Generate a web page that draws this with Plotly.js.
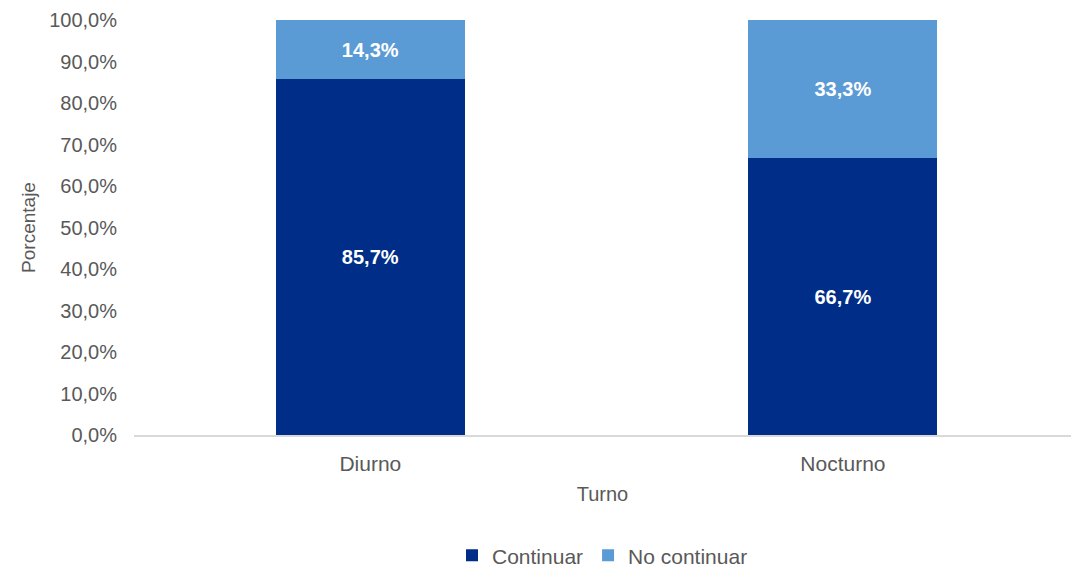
<!DOCTYPE html>
<html>
<head>
<meta charset="utf-8">
<script src="https://cdn.plot.ly/plotly-3.0.1.min.js"></script>
<style>html,body{margin:0;padding:0;background:#fff;}#chart{width:1071px;height:567px;}</style>
</head>
<body>
<div id="chart"></div>
<script>
const categories = ["Diurno", "Nocturno"];
const continuar = [85.7, 66.7];
const noContinuar = [14.3, 33.3];
const yTicks = [0, 10, 20, 30, 40, 50, 60, 70, 80, 90, 100];
const yTickText = yTicks.map(v => v.toFixed(1).replace(".", ",") + "%");

const font = "Liberation Sans, Arial, sans-serif";
const traces = [
  {
    type: "bar", name: "Continuar", x: categories, y: continuar,
    marker: {color: "#002D87"},
    texttemplate: "<b>%{y:.1f}%</b>", textposition: "inside", insidetextanchor: "middle",
    textfont: {color: "#ffffff", size: 20, family: font},
    hoverinfo: "skip"
  },
  {
    type: "bar", name: "No continuar", x: categories, y: noContinuar,
    marker: {color: "#5B9BD5"},
    texttemplate: "<b>%{y:.1f}%</b>", textposition: "inside", insidetextanchor: "middle",
    textfont: {color: "#ffffff", size: 20, family: font},
    hoverinfo: "skip"
  }
];
const layout = {
  width: 1071, height: 567,
  margin: {l: 134, r: 0, t: 20, b: 132},
  barmode: "stack", bargap: 0.6,
  separators: ",.",
  paper_bgcolor: "#ffffff", plot_bgcolor: "#ffffff",
  font: {family: font, color: "#595959", size: 20},
  showlegend: true,
  legend: {orientation: "h", x: 0.5, xanchor: "center", yref: "container", y: 0.02, yanchor: "middle",
           font: {size: 21, color: "#595959"}, itemwidth: 30, traceorder: "normal"},
  xaxis: {
    automargin: false,
    range: [-0.5, 1.4825],
    title: {text: "Turno", font: {size: 20, color: "#595959"}, standoff: 13},
    showline: true, linecolor: "#d9d9d9", linewidth: 2,
    ticks: "outside", ticklen: 9, tickcolor: "rgba(0,0,0,0)",
    tickfont: {size: 21, color: "#595959"}
  },
  yaxis: {
    automargin: false,
    title: {text: "Porcentaje", font: {size: 19, color: "#595959"}, standoff: 8},
    range: [0, 100], tickmode: "array", tickvals: yTicks, ticktext: yTickText,
    showgrid: false, zeroline: false, showline: false,
    ticks: "outside", ticklen: 12, tickcolor: "rgba(0,0,0,0)",
    tickfont: {size: 20, color: "#595959"}
  }
};
Plotly.newPlot("chart", traces, layout, {displayModeBar: false, staticPlot: true});
</script>
</body>
</html>
